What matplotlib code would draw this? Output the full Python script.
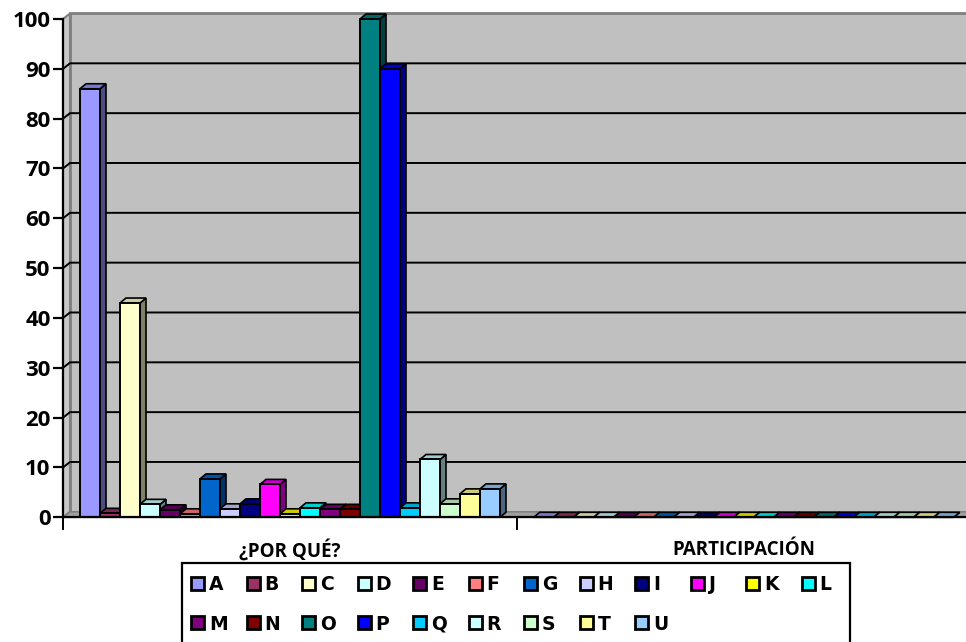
import matplotlib
matplotlib.use('Agg')
import matplotlib.pyplot as plt
from matplotlib.patches import Polygon, Rectangle
from matplotlib.colors import to_rgb

categories = ['¿POR QUÉ?', 'PARTICIPACIÓN']
series = list('ABCDEFGHIJKLMNOPQRSTU')
por_que = [86, 0.8, 43, 2.6, 1.5, 0.7, 7.7, 1.7, 2.7, 6.6, 0.7,
           1.9, 1.6, 1.6, 100, 90, 1.9, 11.6, 2.7, 4.7, 5.7]
participacion = [0] * 21
colors = ['#9999FF', '#993366', '#FFFFCC', '#CCFFFF', '#660066', '#FF8080',
          '#0066CC', '#CCCCFF', '#000080', '#FF00FF', '#FFFF00', '#00FFFF',
          '#800080', '#800000', '#008080', '#0000FF', '#00CCFF', '#CCFFFF',
          '#CCFFCC', '#FFFF99', '#99CCFF']
yticks = list(range(0, 101, 10))

W, H = 966, 642
fig = plt.figure(figsize=(W / 100, H / 100), dpi=100)
ax_l, ax_r, ax_b, ax_t = 63, 970.4, 517.3, 19
ax = fig.add_axes([ax_l / W, 1 - ax_b / H, (ax_r - ax_l) / W, (ax_b - ax_t) / H])
ax.set_xlim(0, 2)
ax.set_ylim(0, 100)
ax.patch.set_visible(False)

# depth of the 3d look, in data units
px_x = 2 / (ax_r - ax_l)
px_y = 100 / (ax_b - ax_t)
dx, dy = 7 * px_x, 5.5 * px_y
bdx, bdy = 6 * px_x, 5 * px_y

# walls and floor
ax.add_patch(Polygon([(dx, dy), (2 + dx, dy), (2 + dx, 100 + dy), (dx, 100 + dy)],
                     fc='#C0C0C0', ec='#808080', lw=2, clip_on=False, zorder=0))
ax.add_patch(Polygon([(0, 0), (dx, dy), (dx, 100 + dy), (0, 100)],
                     fc='#C8C8C8', ec='#808080', lw=1.5, clip_on=False, zorder=0.1))
ax.add_patch(Polygon([(0, 0), (2, 0), (2 + dx, dy), (dx, dy)],
                     fc='#A0A0A0', ec='#808080', lw=1.2, clip_on=False, zorder=0.2))
for y in yticks[1:-1]:
    ax.plot([0, dx, 2 + dx], [y, y + dy, y + dy], color='black', lw=1.4,
            clip_on=False, zorder=1)


def shade(c, f):
    r, g, b = to_rgb(c)
    return (r * f, g * f, b * f)


w = 20 * px_x
start = 17 * px_x
for c, vals in enumerate([por_que, participacion]):
    for i, v in enumerate(vals):
        x0 = c + start + i * w
        z = 2 + 0.01 * i
        ax.add_patch(Polygon([(x0 + w, 0), (x0 + w + bdx, bdy), (x0 + w + bdx, v + bdy), (x0 + w, v)],
                             fc=shade(colors[i], 0.5), ec='black', lw=1.2,
                             clip_on=False, zorder=z))
        ax.add_patch(Polygon([(x0, v), (x0 + bdx, v + bdy), (x0 + w + bdx, v + bdy), (x0 + w, v)],
                             fc=shade(colors[i], 0.8), ec='black', lw=1.2,
                             clip_on=False, zorder=z))
        ax.bar(x0, v, w, align='edge', color=colors[i], edgecolor='black',
               lw=1.4, zorder=z + 0.005, clip_on=False)

for s in ['top', 'right']:
    ax.spines[s].set_visible(False)
for s in ['left', 'bottom']:
    ax.spines[s].set_linewidth(1.6)
    ax.spines[s].set_zorder(5)

ax.set_yticks(yticks)
ax.set_yticklabels([str(t) for t in yticks], fontfamily='Open Sans', fontweight='bold',
                   fontsize=16)
ax.tick_params(axis='y', length=7, width=1.6, pad=2)
ax.set_xticks([0, 1, 2])
ax.set_xticklabels(['', '', ''])
ax.tick_params(axis='x', which='major', length=9, width=1.4)
ax.set_xticks([0.5, 1.5], minor=True)
ax.set_xticklabels(categories, minor=True, fontfamily='Open Sans', fontweight='bold',
                   fontsize=13.5)
ax.tick_params(axis='x', which='minor', length=0, pad=16)


# legend drawn by hand in pixel positions: row 1 A-L, row 2 M-U
def fx(px):
    return px / W


def fy(py):
    return 1 - py / H


fig.patches.append(Rectangle((fx(182), fy(650)), fx(850) - fx(182), fy(563) - fy(650),
                             transform=fig.transFigure, fc='white', ec='black',
                             lw=1.6, zorder=3))
for k, lab in enumerate(series):
    row, col = divmod(k, 12)
    mx = 191 + col * 55.5
    my = 583 + row * 39
    fig.patches.append(Rectangle((fx(mx), fy(my + 6.5)), 13 / W, 13 / H,
                                 transform=fig.transFigure, fc=colors[k],
                                 ec='black', lw=2, zorder=4))
    fig.text(fx(mx + 18), fy(my), lab, ha='left', va='center_baseline',
             fontfamily='DejaVu Sans', fontweight='bold', fontsize=13.5, zorder=5)

fig.savefig('out.png', dpi=100)
